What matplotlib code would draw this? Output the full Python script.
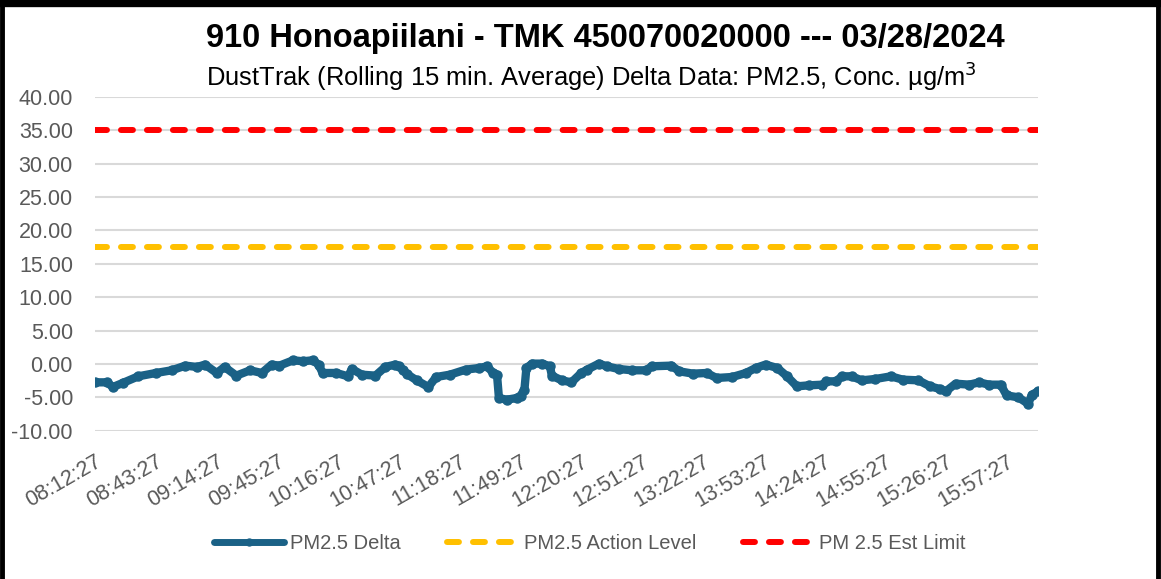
import matplotlib
matplotlib.use("Agg")
import matplotlib.pyplot as plt
from matplotlib.lines import Line2D

plt.rcParams["font.family"] = ["Liberation Sans", "DejaVu Sans"]

# minutes after 08:12:27 and PM2.5 delta readings (ug/m3)
minutes = [0, 6, 9, 14, 22, 31, 39, 46, 52, 56, 62, 66, 72, 79, 85, 90, 94, 101, 106, 111,
           114, 116, 123, 129, 131, 136, 143, 148, 153, 155, 157, 159, 164, 170, 174, 181,
           189, 196, 200, 203, 205, 206, 210, 215, 217, 219, 220, 223, 228, 232, 233, 238,
           243, 248, 251, 257, 261, 267, 274, 281, 284, 294, 298, 305, 312, 317, 325, 332,
           337, 342, 348, 353, 358, 364, 371, 373, 378, 381, 386, 391, 398, 406, 412, 420,
           426, 431, 434, 439, 446, 451, 456, 462, 465, 471, 476, 478, 481]
delta = [-2.75, -2.75, -3.45, -2.85, -1.85, -1.35, -0.95, -0.25, -0.45, -0.1, -1.35, -0.45,
         -1.75, -0.95, -1.35, -0.1, -0.25, 0.55, 0.4, 0.55, -0.1, -1.35, -1.35, -1.85, -0.75,
         -1.6, -1.75, -0.45, -0.1, -0.3, -0.9, -1.5, -2.45, -3.45, -1.95, -1.6, -0.85, -0.6,
         -0.35, -1.35, -1.6, -5.1, -5.35, -5.1, -4.75, -3.85, -0.6, 0.05, 0.05, -0.35, -1.75,
         -2.45, -2.75, -1.35, -0.85, 0.05, -0.35, -0.75, -0.95, -0.95, -0.35, -0.25, -1.1,
         -1.45, -1.35, -2.1, -1.95, -1.35, -0.6, -0.1, -0.6, -1.85, -3.35, -3.2, -3.1, -2.6,
         -2.6, -1.85, -1.85, -2.45, -2.25, -1.85, -2.35, -2.45, -3.35, -3.75, -4.1, -2.95,
         -3.1, -2.75, -3.1, -3.1, -4.7, -5.0, -5.95, -4.6, -4.1]
action_level = 17.5
est_limit = 35.0

tick_minutes = list(range(0, 466, 31))
tick_labels = ["08:12:27", "08:43:27", "09:14:27", "09:45:27", "10:16:27", "10:47:27",
               "11:18:27", "11:49:27", "12:20:27", "12:51:27", "13:22:27", "13:53:27",
               "14:24:27", "14:55:27", "15:26:27", "15:57:27"]

blue = "#1a6186"
orange = "#ffc000"
red = "#ff0000"
grey = "#595959"
dash = (0, (2.0, 2.35))

fig = plt.figure(figsize=(11.61, 5.79), dpi=100)
ax = fig.add_axes([0.082, 0.256, 0.812, 0.577])

x_end = minutes[-1]
ax.plot([0, x_end], [est_limit, est_limit], color=red, lw=4.3,
        linestyle=dash, dash_capstyle="round", zorder=3)
ax.plot([0, x_end], [action_level, action_level], color=orange, lw=4.3,
        linestyle=dash, dash_capstyle="round", zorder=3)
ax.plot(minutes, delta, color=blue, lw=6, marker="o", markersize=6.5,
        solid_capstyle="round", solid_joinstyle="round", zorder=4)

ax.set_xlim(0, x_end)
ax.set_ylim(-10, 40)
ax.set_yticks(range(-10, 41, 5))
ax.set_yticklabels([f"{v:.2f}" for v in range(-10, 41, 5)])
ax.set_xticks(tick_minutes)
ax.set_xticklabels(tick_labels, rotation=30, ha="right", va="top",
                   rotation_mode="anchor")
ax.tick_params(axis="both", length=0, labelcolor=grey)
ax.tick_params(axis="y", labelsize=15.5, pad=16)
ax.tick_params(axis="x", labelsize=15.5, pad=15)
ax.grid(axis="y", color="#d9d9d9", lw=1.5)
ax.set_axisbelow(True)
for s in ax.spines.values():
    s.set_visible(False)

fig.text(0.521, 0.934, "910 Honoapiilani - TMK 450070020000 --- 03/28/2024",
         ha="center", va="center", fontsize=23.5, fontweight="bold")
fig.text(0.509, 0.868, "DustTrak (Rolling 15 min. Average) Delta Data: PM2.5, Conc. \u00b5g/m$^3$",
         ha="center", va="center", fontsize=18.4)

handles = [
    Line2D([], [], color=blue, lw=5, marker="o", markersize=5, solid_capstyle="round"),
    Line2D([], [], color=orange, lw=4.3, linestyle=dash, dash_capstyle="round"),
    Line2D([], [], color=red, lw=4.3, linestyle=dash, dash_capstyle="round"),
]
leg = fig.legend(handles, ["PM2.5 Delta", "PM2.5 Action Level", "PM 2.5 Est Limit"],
                 loc="center", bbox_to_anchor=(0.508, 0.062), ncol=3, frameon=False,
                 handlelength=3.5, columnspacing=2.3, handletextpad=0.3,
                 prop={"size": 14.5})
for t in leg.get_texts():
    t.set_color(grey)

# black frame around the image (left, top, right)
fig.add_artist(Line2D([0.002, 0.002], [0, 0.996], color="black", lw=3.5))
fig.add_artist(Line2D([0.002, 0.997], [0.994, 0.994], color="black", lw=6))
fig.add_artist(Line2D([0.997, 0.997], [0, 0.996], color="black", lw=3.5))

fig.savefig("out.png", dpi=100)
